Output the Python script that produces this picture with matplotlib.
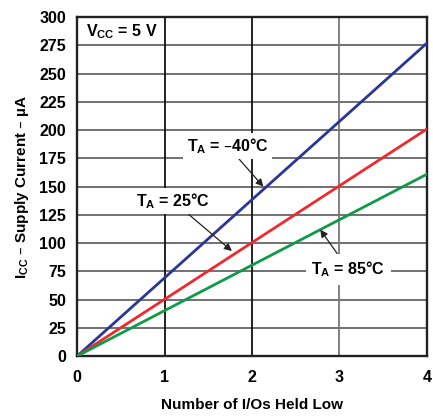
import matplotlib
matplotlib.use("Agg")
import matplotlib.pyplot as plt

plt.rcParams["font.family"] = ["Liberation Sans", "DejaVu Sans"]
plt.rcParams["font.weight"] = "bold"
plt.rcParams["mathtext.default"] = "regular"

# data
n_ios = [0, 4]
icc_m40 = [0, 277]
icc_25 = [0, 201]
icc_85 = [0, 161]
x_ticks = [0, 1, 2, 3, 4]
y_ticks = list(range(0, 301, 25))

fig = plt.figure(figsize=(4.33, 4.18), dpi=100)
ax = fig.add_axes([0.178, 0.148, 0.808, 0.811])

ax.set_xlim(0, 4)
ax.set_ylim(0, 300)
ax.set_xticks(x_ticks)
ax.set_yticks(y_ticks)
ax.tick_params(length=0, labelsize=11.5)
ax.tick_params(axis="x", pad=10)
ax.tick_params(axis="y", pad=8)
for lab in ax.get_xticklabels() + ax.get_yticklabels():
    lab.set_fontweight("bold")

for y in y_ticks[1:-1]:
    ax.axhline(y, color="#666666", lw=1.3, zorder=1)
for x, c in zip([1, 2, 3], ["#111111", "#111111", "#777777"]):
    ax.axvline(x, color=c, lw=1.3, zorder=1)
for s in ax.spines.values():
    s.set_linewidth(1.7)
    s.set_color("#222222")

ax.plot(n_ios, icc_m40, color="#2b3595", lw=2.0, zorder=3)
ax.plot(n_ios, icc_25, color="#ee2a2e", lw=2.0, zorder=3)
ax.plot(n_ios, icc_85, color="#0f9a48", lw=2.0, zorder=3)

box = dict(boxstyle="square,pad=0.2", fc="white", ec="none")
arrow = dict(arrowstyle="-|>", color="#222222", lw=0.9, mutation_scale=11,
             shrinkA=0, shrinkB=0)

ax.text(0.1, 287, r"V$_{\mathregular{CC}}$ = 5 V", fontsize=11.5,
        fontweight="bold", va="center", ha="left", bbox=box, zorder=5)

ax.annotate(r"T$_{\mathregular{A}}$ = –40°C", xy=(2.13, 150), xytext=(1.72, 186),
            fontsize=11.5, fontweight="bold", ha="center", va="center",
            bbox=box, arrowprops=arrow, zorder=5)
ax.annotate(r"T$_{\mathregular{A}}$ = 25°C", xy=(1.77, 93), xytext=(1.1, 137),
            fontsize=11.5, fontweight="bold", ha="center", va="center",
            bbox=box, arrowprops=arrow, zorder=5)
ax.annotate(r"T$_{\mathregular{A}}$ = 85°C", xy=(2.78, 112), xytext=(3.1, 77),
            fontsize=11.5, fontweight="bold", ha="center", va="center",
            bbox=dict(boxstyle="square,pad=0.35", fc="white", ec="none"),
            arrowprops=arrow, zorder=5)

ax.set_xlabel("Number of I/Os Held Low", fontsize=11, fontweight="bold",
              labelpad=9)
ax.set_ylabel(r"I$_{\mathregular{CC}}$ – Supply Current – µA", fontsize=11,
              fontweight="bold", labelpad=6)

fig.savefig("out.png", dpi=100, facecolor="white")
